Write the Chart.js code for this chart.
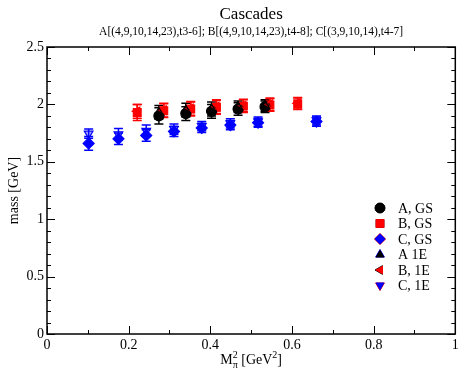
<!DOCTYPE html>
<html>
<head>
<meta charset="utf-8">
<script src="https://cdn.jsdelivr.net/npm/chart.js@4/dist/chart.umd.min.js"></script>
<style>
  html, body { margin: 0; padding: 0; background: #fff; }
  #wrap { width: 462px; height: 375px; }
</style>
</head>
<body>
<div id="wrap"><canvas id="cascadeChart" width="462" height="375"></canvas></div>
<script>
// values (x = Mpi^2 in GeV^2, y = mass in GeV)
const xA = [0.274, 0.340, 0.403, 0.468, 0.534];
const aGS = [1.90, 1.92, 1.94, 1.96, 1.98];
const aGSErr = [0.07, 0.06, 0.06, 0.055, 0.05];
const a1E = [1.93, 1.95, 1.96, 1.98, 1.99];
const a1EErr = [0.06, 0.06, 0.06, 0.05, 0.05];

const xB = [0.221, 0.286, 0.352, 0.415, 0.481, 0.546, 0.614];
const bGS = [1.93, 1.945, 1.96, 1.975, 1.985, 1.995, 2.005];
const bGSErr = [0.07, 0.06, 0.06, 0.06, 0.055, 0.055, 0.05];
const b1E = [1.94, 1.95, 1.965, 1.98, 1.99, 2.0, 2.01];
const b1EErr = [0.06, 0.06, 0.06, 0.06, 0.055, 0.055, 0.05];

const xC = [0.102, 0.175, 0.243, 0.311, 0.379, 0.449, 0.517, 0.660];
const cGS = [1.66, 1.70, 1.73, 1.765, 1.795, 1.82, 1.84, 1.85];
const cGSErr = [0.06, 0.05, 0.05, 0.045, 0.04, 0.04, 0.04, 0.04];
const c1E = [1.745, 1.74, 1.77, 1.785, 1.81, 1.835, 1.85, 1.86];
const c1EErr = [0.04, 0.05, 0.05, 0.045, 0.04, 0.04, 0.04, 0.04];

const titleText = "Cascades";
const subtitleText = "A[(4,9,10,14,23),t3-6]; B[(4,9,10,14,23),t4-8]; C[(3,9,10,14),t4-7]";
const xTicks = [0, 0.2, 0.4, 0.6, 0.8, 1];
const yTicks = [0, 0.5, 1, 1.5, 2, 2.5];

const serif = "'Liberation Serif', 'DejaVu Serif', serif";

function pts(xs, ys) {
    return xs.map((x, i) => ({ x: x, y: ys[i] }));
}

function makeSet(label, xs, ys, errs, color, style, rot, radius, filled) {
    return {
        label: label,
        data: pts(xs, ys),
        errors: errs,
        borderColor: color,
        backgroundColor: filled ? color : color.replace("1)", "0.35)"),
        pointStyle: style,
        rotation: rot,
        pointRadius: radius,
        pointBorderWidth: 1.2,
        showLine: false,
        legendFill: color
    };
}

const datasets = [
    makeSet("A 1E", xA, a1E, a1EErr, "rgba(0,0,0,1)", "triangle", 0, 5, false),
    makeSet("B, 1E", xB, b1E, b1EErr, "rgba(255,0,0,1)", "triangle", -90, 5, false),
    makeSet("C, 1E", xC, c1E, c1EErr, "rgba(0,0,255,1)", "triangle", 180, 5, false),
    makeSet("A, GS", xA, aGS, aGSErr, "rgba(0,0,0,1)", "circle", 0, 5, true),
    makeSet("B, GS", xB, bGS, bGSErr, "rgba(255,0,0,1)", "rect", 0, 5.5, true),
    makeSet("C, GS", xC, cGS, cGSErr, "rgba(0,0,255,1)", "rectRot", 0, 5.5, true)
];
const legendOrder = ["A, GS", "B, GS", "C, GS", "A 1E", "B, 1E", "C, 1E"];

// error bars, frame, ticks, titles and legend
const decor = {
    id: "decor",
    beforeDatasetsDraw(chart) {
        const ctx = chart.ctx;
        const xs = chart.scales.x, ys = chart.scales.y;
        ctx.save();
        chart.data.datasets.forEach((ds) => {
            ctx.strokeStyle = ds.borderColor;
            ctx.lineWidth = 1.5;
            ds.data.forEach((p, i) => {
                const px = xs.getPixelForValue(p.x);
                const top = ys.getPixelForValue(p.y + ds.errors[i]);
                const bot = ys.getPixelForValue(p.y - ds.errors[i]);
                ctx.beginPath();
                ctx.moveTo(px, top); ctx.lineTo(px, bot);
                ctx.moveTo(px - 4.5, top); ctx.lineTo(px + 4.5, top);
                ctx.moveTo(px - 4.5, bot); ctx.lineTo(px + 4.5, bot);
                ctx.stroke();
            });
        });
        ctx.restore();
    },
    afterDraw(chart) {
        const ctx = chart.ctx;
        const a = chart.chartArea;
        const xs = chart.scales.x, ys = chart.scales.y;
        ctx.save();
        ctx.strokeStyle = "#000";
        ctx.lineWidth = 1.5;
        ctx.strokeRect(a.left, a.top, a.right - a.left, a.bottom - a.top);

        ctx.lineWidth = 1;
        ctx.beginPath();
        for (let k = 0; k <= 10; k++) {
            const v = k / 10;
            const px = Math.round(xs.getPixelForValue(v)) + 0.5;
            const len = k % 2 === 0 ? 8 : 4;
            ctx.moveTo(px, a.bottom); ctx.lineTo(px, a.bottom - len);
            ctx.moveTo(px, a.top); ctx.lineTo(px, a.top + len);
        }
        for (let k = 0; k <= 25; k++) {
            const v = k / 10;
            const py = Math.round(ys.getPixelForValue(v)) + 0.5;
            const len = k % 5 === 0 ? 8 : 4;
            ctx.moveTo(a.left, py); ctx.lineTo(a.left + len, py);
            ctx.moveTo(a.right, py); ctx.lineTo(a.right - len, py);
        }
        ctx.stroke();

        // titles
        const cx = (a.left + a.right) / 2;
        ctx.fillStyle = "#000";
        ctx.textAlign = "center";
        ctx.textBaseline = "middle";
        ctx.font = "17px " + serif;
        ctx.fillText(titleText, cx, 15);
        ctx.font = "11.5px " + serif;
        ctx.fillText(subtitleText, cx, 32);

        // y axis title
        ctx.save();
        ctx.translate(14, (a.top + a.bottom) / 2);
        ctx.rotate(-Math.PI / 2);
        ctx.font = "14px " + serif;
        ctx.fillText("mass [GeV]", 0, 0);
        ctx.restore();

        // x axis title with sub/superscripts
        ctx.textAlign = "left";
        ctx.textBaseline = "alphabetic";
        const parts = [
            ["M", 14, 0], ["\u03C0", 10, 4], ["2", 10, -6], [" [GeV", 14, 0], ["2", 10, -6], ["]", 14, 0]
        ];
        let w = 0;
        parts.forEach((p) => { ctx.font = p[1] + "px " + serif; w += ctx.measureText(p[0]).width; });
        w -= 5;
        let tx = cx - w / 2;
        const base = 364;
        parts.forEach((p, i) => {
            ctx.font = p[1] + "px " + serif;
            ctx.fillText(p[0], tx, base + p[2]);
            let adv = ctx.measureText(p[0]).width;
            if (i === 1) adv = 0;
            if (i === 2) adv = Math.max(ctx.measureText("\u03C0").width, adv);
            tx += adv;
        });

        // legend
        ctx.font = "14px " + serif;
        ctx.textBaseline = "middle";
        legendOrder.forEach((name, i) => {
            const ds = chart.data.datasets.find((d) => d.label === name);
            const y = 208 + i * 15.5;
            Chart.helpers.drawPoint(ctx, {
                pointStyle: ds.pointStyle,
                rotation: ds.rotation,
                radius: ds.pointRadius,
                borderWidth: 1
            }, 380, y);
            ctx.fillStyle = ds.legendFill;
            ctx.strokeStyle = ds.legendFill;
            ctx.beginPath();
            drawMarker(ctx, ds.pointStyle, ds.rotation, ds.pointRadius, 380, y);
            ctx.fill();
            ctx.fillStyle = "#000";
            ctx.fillText(name, 398, y + 1);
        });
        ctx.restore();
    }
};

function drawMarker(ctx, style, rot, r, x, y) {
    ctx.save();
    ctx.translate(x, y);
    ctx.rotate(rot * Math.PI / 180);
    if (style === "circle") {
        ctx.arc(0, 0, r, 0, Math.PI * 2);
    } else if (style === "rect") {
        ctx.rect(-r * 0.8, -r * 0.8, r * 1.6, r * 1.6);
    } else if (style === "rectRot") {
        ctx.moveTo(0, -r); ctx.lineTo(r, 0); ctx.lineTo(0, r); ctx.lineTo(-r, 0); ctx.closePath();
    } else {
        ctx.moveTo(0, -r); ctx.lineTo(r * 0.9, r * 0.6); ctx.lineTo(-r * 0.9, r * 0.6); ctx.closePath();
    }
    ctx.restore();
}

new Chart(document.getElementById("cascadeChart").getContext("2d"), {
    type: "scatter",
    data: { datasets: datasets },
    options: {
        responsive: false,
        animation: false,
        layout: { padding: { top: 47, right: 3, left: 0, bottom: 0 } },
        plugins: {
            legend: { display: false },
            title: { display: false },
            tooltip: { enabled: false }
        },
        scales: {
            x: {
                type: "linear",
                min: 0, max: 1,
                afterFit(scale) { scale.height = 41; },
                afterBuildTicks(scale) { scale.ticks = xTicks.map((v) => ({ value: v })); },
                grid: { display: false, drawTicks: false },
                border: { display: false },
                ticks: {
                    color: "#000",
                    padding: 3,
                    font: { family: serif, size: 14 },
                    maxRotation: 0,
                    callback: (v) => String(v)
                }
            },
            y: {
                type: "linear",
                min: 0, max: 2.5,
                afterFit(scale) { scale.width = 47; },
                afterBuildTicks(scale) { scale.ticks = yTicks.map((v) => ({ value: v })); },
                grid: { display: false, drawTicks: false },
                border: { display: false },
                ticks: {
                    color: "#000",
                    padding: 3,
                    font: { family: serif, size: 14 },
                    callback: (v) => String(v)
                }
            }
        }
    },
    plugins: [decor]
});
</script>
</body>
</html>
